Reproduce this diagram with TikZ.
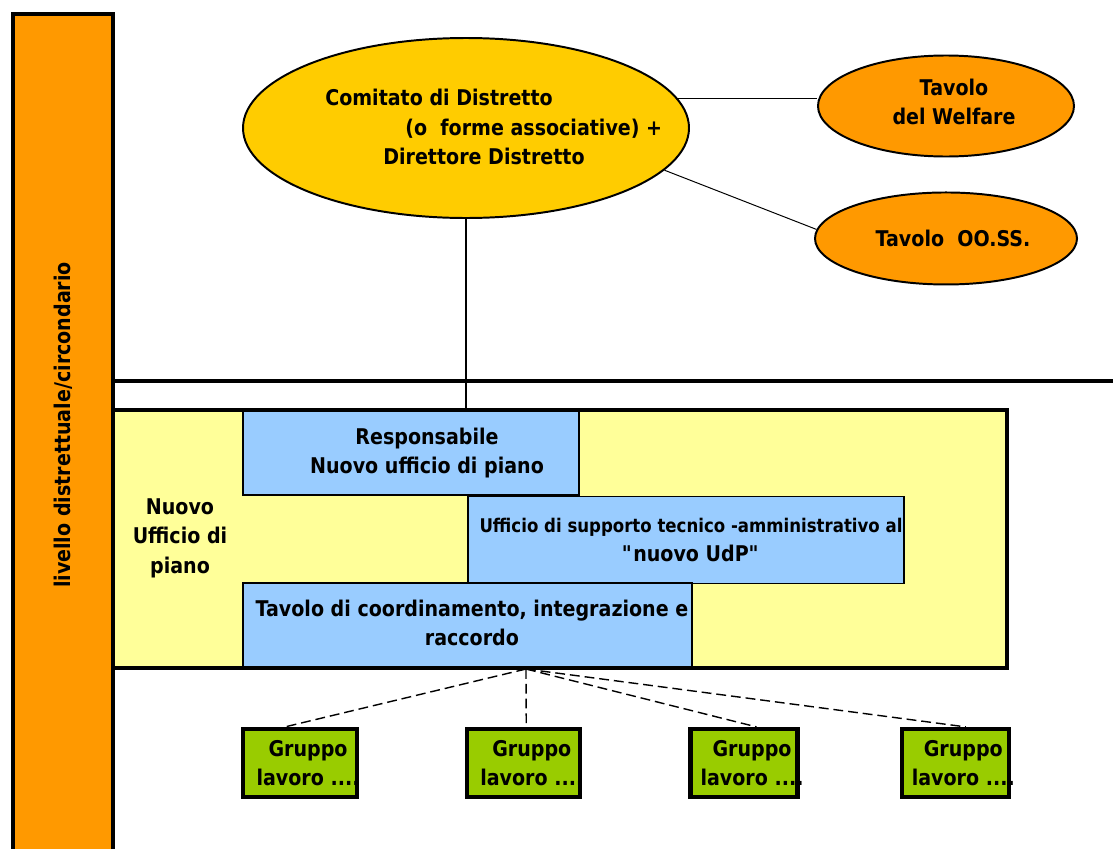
\documentclass[tikz,border=0pt]{standalone}
\usepackage{fontspec}
\setmainfont{DejaVu Sans}[FakeStretch=0.88]
\usetikzlibrary{shapes.geometric,positioning}

\definecolor{bandorange}{HTML}{FF9900}
\definecolor{ovalyellow}{HTML}{FFCC00}
\definecolor{udpyellow}{HTML}{FFFF99}
\definecolor{udpblue}{HTML}{99CCFF}
\definecolor{groupgreen}{HTML}{99CC00}

\newcommand{\dq}{\XeTeXglyph\XeTeXcharglyph"22\relax}

\tikzset{
  txt/.style={font=\bfseries\fontsize{15.4}{21}\selectfont, align=center, inner sep=0},
  bandbox/.style={draw, line width=3.5pt, fill=bandorange, inner sep=0},
  udpframe/.style={draw, line width=2.8pt, fill=udpyellow, inner sep=0},
  udpbox/.style={draw, line width=1.4pt, fill=udpblue, inner sep=0},
  bigoval/.style={ellipse, draw, line width=1.4pt, fill=ovalyellow, inner sep=0},
  sideoval/.style={ellipse, draw, line width=1.4pt, fill=bandorange, inner sep=0},
  groupbox/.style={draw, line width=3pt, fill=groupgreen, inner sep=0,
    minimum height=68*0.025cm},
  grouptxt/.style={txt, xshift=0.2cm},
  link/.style={line width=0.7pt},
  stem/.style={line width=2pt},
  sepline/.style={line width=2.8pt},
  feed/.style={line width=1pt, dash pattern=on 7pt off 3.5pt}
}

\begin{document}
\begin{tikzpicture}[x=0.025cm, y=-0.025cm]
  \useasboundingbox (0,0) rectangle (1113,849);

  % fascia laterale
  \node[bandbox, minimum width=100*0.025cm, minimum height=888*0.025cm] (band) at (63,458) {};
  \node[txt, rotate=90] (bandtxt) at (63,425) {livello distrettuale/circondario};

  \coordinate (rightedge) at (1113,381);
  \draw[sepline] (band.east |- rightedge) -- (rightedge);

  % livello distrettuale
  \node[bigoval, minimum width=446*0.025cm, minimum height=180*0.025cm] (comitato) at (466,128) {};
  \node[txt, align=left, anchor=west] (comitatotxt) at (325,127)
    {Comitato di Distretto\\
     \hspace*{2cm}(o\ \ forme associative) +\\
     \hspace*{1.45cm}Direttore Distretto};

  \node[sideoval, minimum width=256*0.025cm, minimum height=101*0.025cm,
        label={[txt, xshift=0.2cm, yshift=0.1cm]center:Tavolo\\del Welfare}] (welfare) at (946,106) {};
  \node[sideoval, minimum width=262*0.025cm, minimum height=92*0.025cm,
        label={[txt, xshift=0.175cm]center:Tavolo\ \ OO.SS.}, below=0.85cm of welfare] (oss) {};

  \draw[link] (comitato.8) -- (comitato.8 -| welfare.west);
  \draw[link] (comitato.-12) -- (oss.176);

  % nuovo ufficio di piano
  \node[udpframe, minimum width=894*0.025cm, minimum height=258*0.025cm] (ufficio) at (560,539) {};
  \node[txt] (ufficiotxt) at (180,538) {Nuovo\\Ufficio di\\piano};

  \node[udpbox, minimum width=336*0.025cm, minimum height=84*0.025cm,
        label={[txt, xshift=0.4cm]center:Responsabile\\Nuovo ufficio di piano}] (resp) at (411,453) {};
  \node[udpbox, minimum width=436*0.025cm, minimum height=87*0.025cm,
        label={[txt, xshift=0.125cm]center:{{\fontsize{13.4}{15}\selectfont Ufficio di supporto tecnico -amministrativo al}\\\dq nuovo UdP\dq}}] (supporto) at (686,540) {};
  \node[udpbox, minimum width=449*0.025cm, minimum height=84*0.025cm,
        label={[txt, xshift=0.11cm, yshift=0.05cm]center:{Tavolo di coordinamento, integrazione e\\raccordo}}] (coord) at (467.5,625) {};

  \draw[stem] (comitato.south) -- (comitato.south |- ufficio.north);

  % gruppi di lavoro
  \node[groupbox, minimum width=114*0.025cm, label={[grouptxt]center:Gruppo\\lavoro ....}] (g1) at (300,763) {};
  \node[groupbox, minimum width=113*0.025cm, label={[grouptxt]center:Gruppo\\lavoro ....}, right=2.65cm of g1] (g2) {};
  \node[groupbox, minimum width=107*0.025cm, label={[grouptxt]center:Gruppo\\lavoro ....}, right=2.65cm of g2] (g3) {};
  \node[groupbox, minimum width=107*0.025cm, label={[grouptxt]center:Gruppo\\lavoro ....}, right=2.5cm of g3] (g4) {};

  \coordinate (hub) at (526,669);
  \foreach \g/\dx in {g1/-15, g2/2.5, g3/12.5, g4/10.5}
    \draw[feed] (hub) -- ([xshift=\dx*0.025cm]\g.north);
\end{tikzpicture}
\end{document}
